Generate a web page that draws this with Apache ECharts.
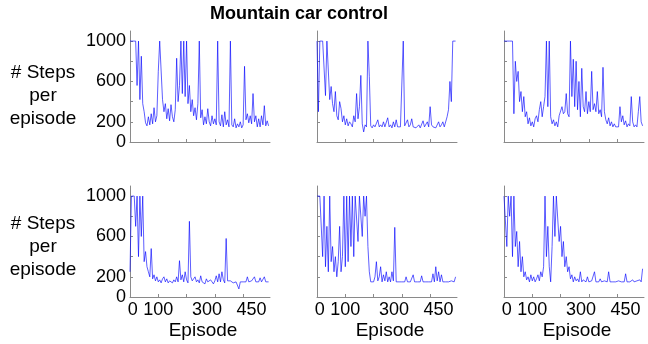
<!DOCTYPE html>
<html><head><meta charset="utf-8">
<script src="https://cdn.jsdelivr.net/npm/echarts@6/dist/echarts.min.js"></script>
<style>html,body{margin:0;padding:0;background:#fff}#c{width:648px;height:344px}</style>
</head><body><div id="c"></div>
<script>
const chartTitle = 'Mountain car control';
const yAxisTitle = '# Steps\nper\nepisode';
const xAxisTitle = 'Episode';
const episodeStep = 5;
const yTickLabels = [0, 200, 600, 1000];
const xTickLabels = ['0', '100', '300', '450'];
const xTickLabelPos = [10, 100, 272, 430];

const stepsTopLeft = [
1000,1000,1000,1000,1000,560,1000,420,850,380,
300,190,160,250,170,280,180,340,200,260,
700,1000,1000,420,300,380,230,330,210,370,
250,200,320,830,400,560,1000,480,1000,450,
1000,380,560,300,420,260,340,220,380,1000,
240,320,170,250,180,330,200,160,260,180,
230,170,1000,200,160,270,150,300,170,220,
150,1000,170,150,230,140,180,150,200,140,
170,750,220,280,190,260,180,480,200,260,
150,230,150,260,170,360,160,210,160];
const stepsTopMid = [
1000,300,1000,1000,1000,1000,460,1000,1000,420,
550,380,300,500,260,220,400,330,200,260,
170,230,160,200,180,150,260,200,480,230,
350,660,180,100,170,150,1000,650,160,140,
170,150,160,220,150,170,150,200,150,160,
240,150,170,140,200,150,220,150,160,150,
140,1000,160,150,220,150,170,230,150,160,
140,150,170,140,150,210,150,140,200,150,
350,170,150,160,140,150,200,150,170,200,
150,160,250,320,600,400,1000,1000,1000];
const stepsTopRight = [
1000,1000,1000,1000,1000,1000,1000,280,800,600,
700,400,500,300,450,250,300,180,240,160,
200,150,230,260,200,320,400,250,350,450,
1000,350,1000,250,180,220,160,200,150,260,
250,350,280,300,480,280,250,1000,450,820,
350,800,320,600,250,730,350,300,500,280,
400,300,700,320,380,300,500,280,320,250,
740,300,220,180,240,160,200,150,180,150,
160,150,350,200,260,170,210,150,180,160,
450,200,150,170,150,300,450,200,160];
const stepsBotLeft = [
250,1000,1000,1000,700,1000,400,1000,600,1000,
350,450,300,250,200,480,180,220,160,200,
150,170,140,180,200,150,180,140,160,150,
140,170,150,200,150,360,170,220,150,250,
170,140,750,200,160,150,200,150,170,140,
210,150,160,130,180,150,140,170,150,130,
160,210,150,230,150,250,170,140,580,160,
150,160,150,140,150,150,140,80,150,160,
150,140,150,200,150,140,160,150,200,150,
140,150,190,150,140,200,150,160,150];
const stepsBotMid = [
1000,1000,1000,1000,400,1000,300,700,250,1000,
350,500,250,400,200,350,700,250,400,1000,
300,1000,350,1000,500,1000,400,1000,1000,550,
1000,1000,600,1000,800,1000,500,250,150,160,
150,200,350,160,200,300,150,220,160,250,
150,200,150,250,160,690,150,160,150,140,
150,160,150,200,150,140,150,160,220,150,
140,150,160,150,210,150,140,150,160,150,
140,150,230,150,300,160,250,150,220,150,
140,150,160,150,150,160,150,150,200];
const stepsBotRight = [
1000,1000,500,1000,800,1000,400,1000,500,650,
300,550,250,400,200,250,170,200,150,220,
160,200,150,180,220,160,250,200,300,1000,
400,700,300,150,500,1000,600,1000,1000,550,
700,400,550,300,400,250,300,180,220,150,
200,160,180,150,250,150,170,160,150,200,
150,150,160,150,250,150,160,150,180,150,
150,160,150,150,250,150,140,150,160,150,
150,160,150,150,160,150,230,150,160,150,
150,170,150,150,160,150,170,150,280];

const panels = [
  {data: stepsTopLeft, left: 130, top: 31, bottomRow: false},
  {data: stepsTopMid, left: 317, top: 31, bottomRow: false},
  {data: stepsTopRight, left: 504, top: 31, bottomRow: false},
  {data: stepsBotLeft, left: 130, top: 186, bottomRow: true},
  {data: stepsBotMid, left: 317, top: 186, bottomRow: true},
  {data: stepsBotRight, left: 504, top: 186, bottomRow: true}
];
const axisGray = '#8a8a8a';
const font = 'Liberation Sans, Arial, sans-serif';

const grid = [], xAxis = [], yAxis = [], series = [];
panels.forEach((p, i) => {
  grid.push({left: p.left, top: p.top, width: 140, height: 111});
  xAxis.push({
    type: 'value', gridIndex: i, min: 0, max: 495,
    axisLine: {lineStyle: {color: axisGray, width: 1}},
    axisTick: {inside: true, length: 3, lineStyle: {color: axisGray}, customValues: [100, 200, 300, 400]},
    splitLine: {show: false},
    axisLabel: {show: p.bottomRow, margin: 4, color: '#000', fontSize: 18, fontFamily: font,
      customValues: xTickLabelPos,
      formatter: v => { const k = xTickLabelPos.indexOf(v); return k >= 0 ? xTickLabels[k] : ''; }},
    name: p.bottomRow ? xAxisTitle : '', nameLocation: 'middle', nameGap: 24,
    nameTextStyle: {color: '#000', fontSize: 19, fontFamily: font, padding: [0, 0, 0, 6]}
  });
  yAxis.push({
    type: 'value', gridIndex: i, min: 0, max: 1100,
    axisLine: {show: true, lineStyle: {color: axisGray, width: 1}},
    axisTick: {show: true, inside: true, length: 3, lineStyle: {color: axisGray}, customValues: [200, 400, 600, 800, 1000]},
    splitLine: {show: false},
    axisLabel: {show: p.left === 130, margin: 4, color: '#000', fontSize: 18, fontFamily: font,
      customValues: yTickLabels, formatter: v => String(v)}
  });
  series.push({
    type: 'line', xAxisIndex: i, yAxisIndex: i, symbol: 'none', animation: false,
    lineStyle: {color: '#0000ff', width: 0.8, opacity: 0.8},
    data: p.data.map((v, k) => [k * episodeStep, v])
  });
});

const chart = echarts.init(document.getElementById('c'), null, {renderer: 'canvas'});
chart.setOption({
  animation: false,
  title: [
    {text: chartTitle, left: 294, top: 0, textAlign: 'center',
     textStyle: {fontSize: 18, fontWeight: 'bold', color: '#000', fontFamily: font}},
    {text: yAxisTitle, left: 38, top: 56, textAlign: 'center',
     textStyle: {fontSize: 19, fontWeight: 'normal', color: '#000', fontFamily: font, lineHeight: 23}},
    {text: yAxisTitle, left: 38, top: 207, textAlign: 'center',
     textStyle: {fontSize: 19, fontWeight: 'normal', color: '#000', fontFamily: font, lineHeight: 23}}
  ],
  grid, xAxis, yAxis, series
});
</script></body></html>
